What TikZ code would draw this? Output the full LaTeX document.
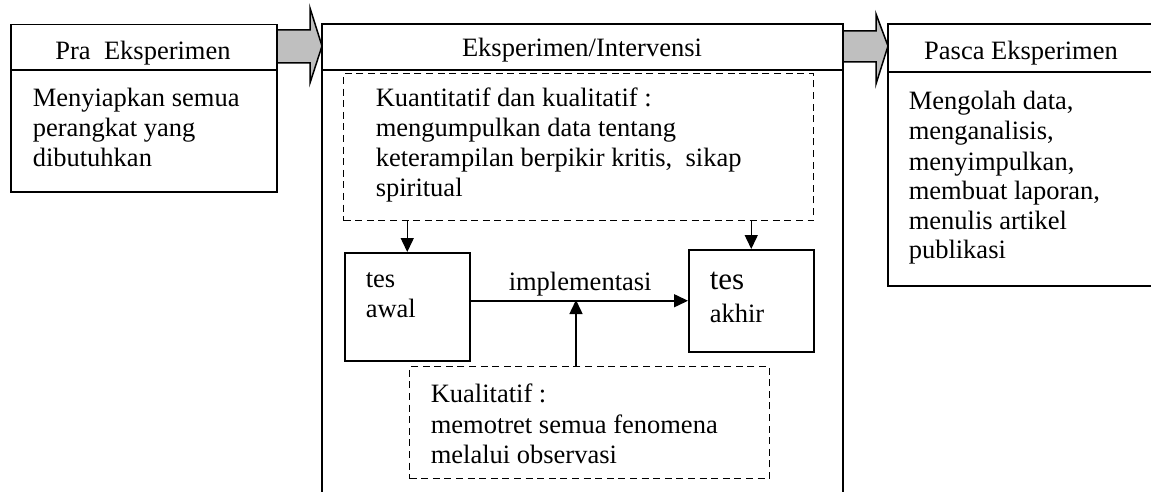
\documentclass[tikz,border=0pt]{standalone}
\usepackage{fontspec}
\setmainfont{Liberation Serif}
\usetikzlibrary{arrows.meta}
\begin{document}
\begin{tikzpicture}[x=0.5pt,y=-0.5pt,
  line width=0.75pt,
  box/.style={draw,line width=0.75pt,inner sep=0pt,anchor=north west},
  dbox/.style={draw,line width=0.6pt,dash pattern=on 3.5pt off 2.3pt,inner sep=0pt,anchor=north west},
  txt/.style={inner sep=0pt,anchor=base west,font=\fontsize{13.25}{15}\selectfont},
  ctxt/.style={inner sep=0pt,anchor=base,font=\fontsize{13.25}{15}\selectfont},
  arr/.style={-{Triangle[length=7pt,width=6.5pt]},line width=0.75pt},
  bigarrow/.style={draw,fill=black!25,line width=0.75pt,line join=miter}]
\useasboundingbox (0,0) rectangle (1151,492);

% Pra Eksperimen
\node[box,minimum width=133pt,minimum height=83.5pt] (pra) at (10,24) {};
\draw (10,70) -- (276,70);
\node[ctxt] (praT) at (143,60) {Pra\ \ Eksperimen};
\node[txt] (praL1) at (32,107) {Menyiapkan semua};
\node[txt] (praL2) at (32,137) {perangkat yang};
\node[txt] (praL3) at (32,167) {dibutuhkan};

% Big arrow 1
\draw[bigarrow] (277,30) -- (310,30) -- (310,8) -- (322,46) -- (310,83) -- (310,63) -- (277,63) -- cycle;

% Eksperimen/Intervensi (open at bottom)
\draw (322,493) -- (322,24) -- (843,24) -- (843,493);
\draw (322,70) -- (843,70);
\node[ctxt] (eksT) at (582,57) {Eksperimen/Intervensi};

% Big arrow 2
\draw[bigarrow] (843,31) -- (876,31) -- (876,14) -- (888,46) -- (876,84) -- (876,62) -- (843,62) -- cycle;

% Pasca Eksperimen (open at right)
\draw (1153,24) -- (888,24) -- (888,286) -- (1153,286);
\draw (888,72) -- (1153,72);
\node[ctxt] (pasT) at (1021,60) {Pasca Eksperimen};
\node[txt] (pasL1) at (908,110) {Mengolah data,};
\node[txt] (pasL2) at (908,140) {menganalisis,};
\node[txt] (pasL3) at (908,170) {menyimpulkan,};
\node[txt] (pasL4) at (908,199) {membuat laporan,};
\node[txt] (pasL5) at (908,229) {menulis artikel};
\node[txt] (pasL6) at (908,258) {publikasi};

% top dashed box
\node[dbox,minimum width=235pt,minimum height=73.5pt] (top) at (343,73) {};
\node[txt] (topL1) at (375,107) {Kuantitatif dan kualitatif :};
\node[txt] (topL2) at (375,137) {mengumpulkan data tentang};
\node[txt] (topL3) at (375,167) {keterampilan berpikir kritis,\ \ sikap};
\node[txt] (topL4) at (375,197) {spiritual};

% tes awal
\node[box,minimum width=62.5pt,minimum height=54pt] (awal) at (344,252) {};
\node[txt] (awal1) at (365,287) {tes};
\node[txt] (awal2) at (365,317) {awal};

% tes akhir
\node[box,minimum width=62.5pt,minimum height=51pt] (akhir) at (688,249) {};
\node[txt,font=\fontsize{15.5}{17}\selectfont] (akhir1) at (709,289) {tes};
\node[txt] (akhir2) at (709,322) {akhir};

% bottom dashed box
\node[dbox,minimum width=180pt,minimum height=56pt] (bot) at (409,366) {};
\node[txt] (botL1) at (430,402) {Kualitatif :};
\node[txt] (botL2) at (430,433) {memotret semua fenomena};
\node[txt] (botL3) at (430,463) {melalui observasi};

% connectors
\draw[arr] (top.south -| awal.north) -- (awal.north);
\draw[arr] (top.south -| akhir.north) -- (akhir.north);
\draw[arr] (awal.east |- akhir.west) -- (akhir.west);
\node[txt] (impl) at (508,290) {implementasi};
\coordinate (meet) at (576,300);
\draw[arr] (bot.north -| meet) -- (meet);
\end{tikzpicture}
\end{document}
